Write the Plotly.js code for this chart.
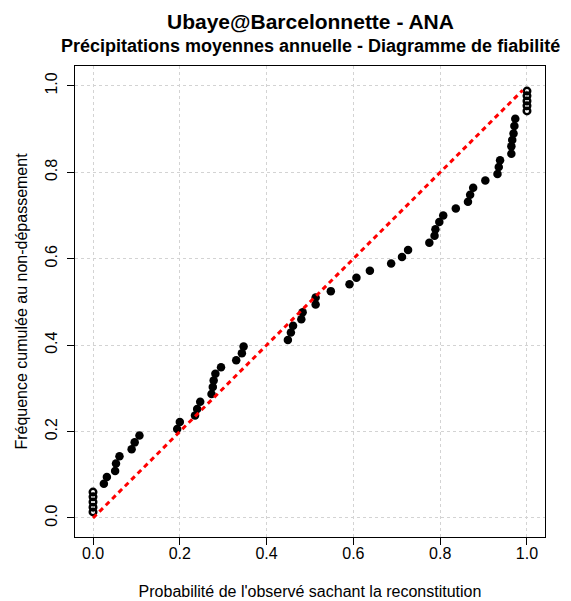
<!DOCTYPE html>
<html>
<head>
<meta charset="utf-8">
<script src="https://cdn.plot.ly/plotly-3.0.1.min.js"></script>
<style>html,body{margin:0;padding:0;background:#fff;}#chart{width:571px;height:601px;}</style>
</head>
<body>
<div id="chart"></div>
<script>
// Probabilité de l'observé sachant la reconstitution (x) vs fréquence cumulée (y)
const probObs = [
  0, 0, 0, 0, 0,
  0.025, 0.032, 0.051, 0.053, 0.061, 0.089, 0.096, 0.107,
  0.194, 0.200, 0.235, 0.240, 0.247,
  0.273, 0.276, 0.278, 0.282, 0.295,
  0.330, 0.343, 0.347,
  0.449, 0.456, 0.461, 0.480, 0.483,
  0.513, 0.513, 0.548, 0.591, 0.607, 0.638,
  0.687, 0.712, 0.726, 0.775, 0.787, 0.789, 0.798, 0.807,
  0.836, 0.864, 0.869, 0.876, 0.904,
  0.932, 0.935, 0.938,
  0.964, 0.964, 0.966, 0.969, 0.971, 0.973,
  1, 1, 1, 1, 1
];
const freqCum = [
  0.014, 0.025, 0.037, 0.049, 0.060,
  0.079, 0.095, 0.109, 0.126, 0.143, 0.159, 0.175, 0.191,
  0.206, 0.222, 0.237, 0.252, 0.269,
  0.287, 0.303, 0.318, 0.334, 0.349,
  0.365, 0.381, 0.397,
  0.412, 0.429, 0.445, 0.460, 0.476,
  0.494, 0.510, 0.525, 0.541, 0.556, 0.572,
  0.589, 0.604, 0.620, 0.637, 0.653, 0.668, 0.685, 0.700,
  0.716, 0.732, 0.748, 0.764, 0.781,
  0.796, 0.812, 0.828,
  0.843, 0.860, 0.875, 0.890, 0.907, 0.924,
  0.942, 0.954, 0.965, 0.977, 0.988
];
const diagX = [0, 0.99];
const diagY = [0, 0.99];
const tickVals = [0, 0.2, 0.4, 0.6, 0.8, 1.0];
const tickText = ["0.0", "0.2", "0.4", "0.6", "0.8", "1.0"];

const titleMain = "Ubaye@Barcelonnette - ANA";
const titleSub = "Précipitations moyennes annuelle - Diagramme de fiabilité";
const xTitle = "Probabilité de l'observé sachant la reconstitution";
const yTitle = "Fréquence cumulée au non-dépassement";

const isEdge = probObs.map(v => v === 0 || v === 1);
const inner = {x: [], y: []}, edge = {x: [], y: []};
probObs.forEach((v, i) => {
  const t = isEdge[i] ? edge : inner;
  t.x.push(v); t.y.push(freqCum[i]);
});

const FONT = "Liberation Sans, Arial, sans-serif";

const traces = [
  {x: inner.x, y: inner.y, type: 'scatter', mode: 'markers',
   marker: {color: '#000', size: 8.5}, cliponaxis: false},
  {x: edge.x, y: edge.y, type: 'scatter', mode: 'markers',
   marker: {symbol: 'circle-open', color: '#000', size: 6.5, line: {width: 2.5, color: '#000'}},
   cliponaxis: false},
  {x: diagX, y: diagY, type: 'scatter', mode: 'lines',
   line: {color: '#ff0000', width: 3, dash: '5px,4px'}}
];

const axisCommon = {
  tickmode: 'array', tickvals: tickVals, ticktext: tickText,
  ticks: 'outside', ticklen: 7, tickwidth: 1, tickcolor: '#000',
  showline: true, linecolor: '#000', linewidth: 1, mirror: true,
  showgrid: true, gridcolor: '#d3d3d3', griddash: 'dot', gridwidth: 1,
  zeroline: false, tickfont: {family: FONT, size: 16, color: '#000'}
};

const layout = {
  width: 571, height: 601,
  margin: {l: 75, r: 26, t: 66, b: 64},
  paper_bgcolor: '#fff', plot_bgcolor: '#fff',
  showlegend: false,
  font: {family: FONT, color: '#000'},
  xaxis: Object.assign({}, axisCommon, {
    range: [-0.0415, 1.0415], ticklabelstandoff: -5,
    title: {text: xTitle, font: {family: FONT, size: 16}, standoff: 24}
  }),
  yaxis: Object.assign({}, axisCommon, {
    range: [-0.044, 1.046], tickangle: -90, ticklabelstandoff: 4,
    title: {text: yTitle, font: {family: FONT, size: 16}, standoff: 10}
  }),
  annotations: [
    {text: '<b>' + titleMain + '</b>', xref: 'paper', yref: 'paper', x: 0.5, y: 1.0955,
     xanchor: 'center', yanchor: 'middle', showarrow: false, font: {family: FONT, size: 21}},
    {text: '<b>' + titleSub + '</b>', xref: 'paper', yref: 'paper', x: 0.5, y: 1.0425,
     xanchor: 'center', yanchor: 'middle', showarrow: false, font: {family: FONT, size: 18}}
  ]
};

Plotly.newPlot('chart', traces, layout, {displayModeBar: false, staticPlot: true});
</script>
</body>
</html>
